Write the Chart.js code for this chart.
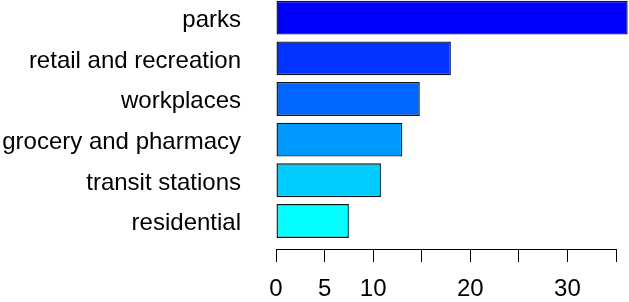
<!DOCTYPE html>
<html>
<head>
<meta charset="utf-8">
<script src="https://cdn.jsdelivr.net/npm/chart.js@4/dist/chart.umd.min.js"></script>
<style>
  html, body { margin: 0; padding: 0; background: #fff; }
  #wrap { width: 629px; height: 302px; }
</style>
</head>
<body>
<div id="wrap"><canvas id="mobility"></canvas></div>
<script>
var categories = ['parks', 'retail and recreation', 'workplaces', 'grocery and pharmacy', 'transit stations', 'residential'];
var values = [36.2, 18.0, 14.8, 13.0, 10.8, 7.5];
var barColors = ['#0000FF', '#0033FF', '#0066FF', '#0099FF', '#00CCFF', '#00FFFF'];
var xTicks = [0, 5, 10, 15, 20, 25, 30, 35];
var xLabelled = [0, 5, 10, 20, 30];

var points = [];
for (var i = 0; i < values.length; i++) {
	points.push({x: values[i], y: i});
}

var ctx = document.getElementById('mobility').getContext('2d');
var chart = new Chart(ctx, {
	type: 'bar',
	data: {
		datasets: [{
			data: points,
			backgroundColor: barColors,
			borderColor: '#111',
			borderWidth: 1.4,
			borderSkipped: false,
			barPercentage: 0.833,
			categoryPercentage: 1,
			clip: false
		}]
	},
	options: {
		indexAxis: 'y',
		responsive: true,
		maintainAspectRatio: false,
		animation: false,
		layout: {autoPadding: false, padding: {top: 0, right: 13, bottom: 0, left: 0}},
		plugins: {legend: {display: false}, tooltip: {enabled: false}},
		scales: {
			y: {
				type: 'linear',
				reverse: true,
				offset: false,
				min: -0.42,
				max: 5.69,
				afterFit: function(s) { s.width = 276; },
				afterBuildTicks: function(s) {
					// labels sit a touch below the bar centre, like the original
					s.ticks = categories.map(function(c, i) { return {value: i + 0.07}; });
				},
				ticks: {
					color: '#000',
					// tiny line height so the labels add no padding above the plot
					font: {family: 'Liberation Sans', size: 24, lineHeight: 0.05},
					padding: 0,
					callback: function(v) { return categories[Math.round(v)]; }
				},
				grid: {display: false, drawTicks: true, tickLength: 35},
				border: {display: false}
			},
			x: {
				type: 'linear',
				min: 0,
				max: 35,
				afterFit: function(s) { s.height = 53; },
				afterBuildTicks: function(s) {
					s.ticks = xTicks.map(function(v) { return {value: v}; });
				},
				ticks: {
					color: '#000',
					font: {family: 'Liberation Sans', size: 24, lineHeight: 2.3},
					padding: 0,
					maxRotation: 0,
					autoSkip: false,
					callback: function(v) { return xLabelled.indexOf(v) >= 0 ? String(v) : ''; }
				},
				grid: {drawOnChartArea: false, drawTicks: true, tickLength: 13, color: '#000', lineWidth: 1},
				border: {display: true, color: '#000', width: 1}
			}
		}
	}
});
</script>
</body>
</html>
